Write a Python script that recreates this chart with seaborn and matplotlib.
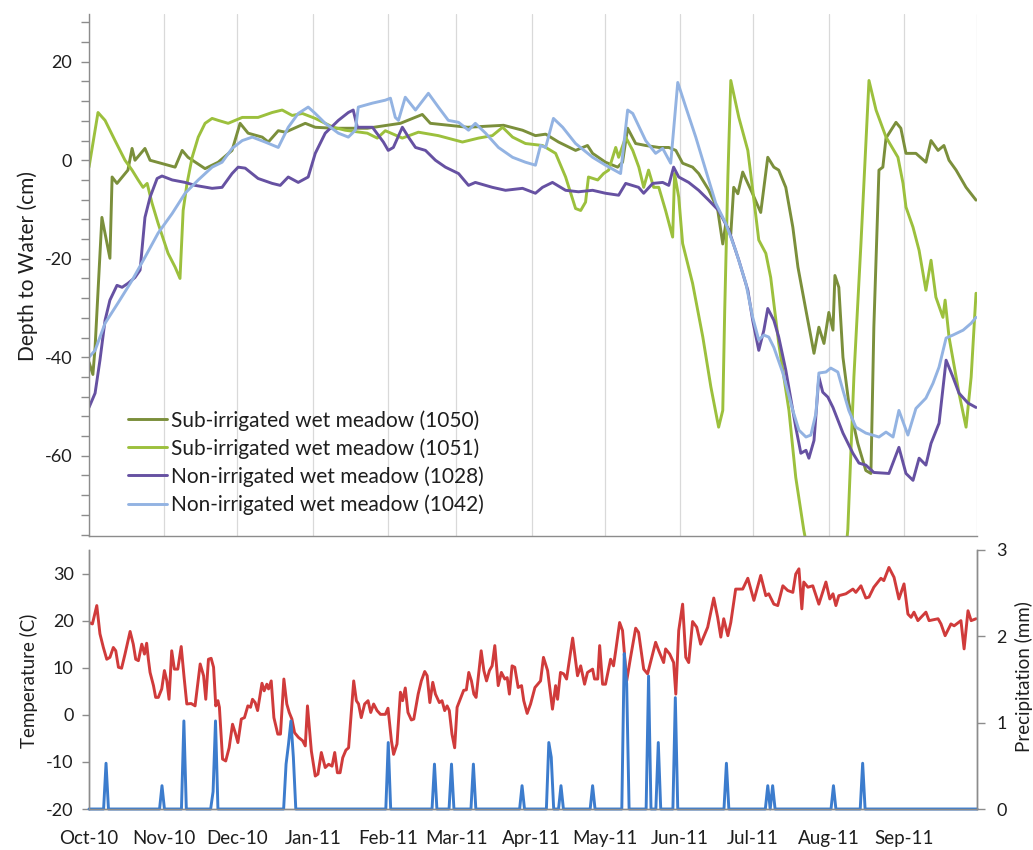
import numpy as np
import pandas as pd
import matplotlib
matplotlib.use("Agg")
import matplotlib.pyplot as plt
import matplotlib.dates as mdates
from matplotlib.ticker import MultipleLocator, FixedLocator
import seaborn as sns

# ---------------- data (days since 2010-10-01) ----------------
days_1050 = [0, 1.6, 2.5, 5.3, 8.6, 9.5, 11.5, 16.0, 17.7, 18.9, 23.0, 25.1, 35.4, 38.3, 40.7, 47.7, 53.1, 58.8, 62.1, 65.4,
             71.2, 73.7, 77.8, 80.7, 88.9, 93.0, 100.4, 114.4, 128.0, 137.0, 140.3, 155.6, 170.4, 178.2, 183.5, 187.7, 189.7,
             193.0, 200.0, 204.9, 207.0, 212.3, 217.3, 219.3, 221.4, 224.7, 228.8, 234.2, 238.3, 241.2, 244.0, 248.1, 250.6,
             254.7, 258.4, 260.5, 261.7, 263.8, 265.0, 266.7, 268.7, 270.8, 272.4, 276.1, 279.0, 281.5, 283.5, 286.4, 289.3,
             291.4, 294.7, 298.0, 300.0, 302.1, 304.1, 305.8, 306.6, 308.2, 309.9, 312.3, 316.0, 319.3, 321.4, 322.6, 324.7,
             326.3, 327.6, 331.7, 333.7, 335.8, 339.9, 344.0, 346.1, 349.0, 351.4, 353.5, 356.4, 360.5, 364.6]
depth_1050 = [-41, -43.5, -38, -11.6, -19.9, -3.4, -4.7, -2, 2.4, 0, 2.4, 0, -1.4, 2, 0.6, -1.7, -0.4, 2, 7.5, 5.5,
              4.7, 3.7, 6, 5.7, 7.5, 6.7, 6.5, 6.5, 7.5, 9.3, 7.5, 6.7, 7.1, 6.1, 5, 5.3, 4.7,
              3.7, 2, 3, 1.4, -0.4, -1.4, -0.4, 6.5, 3.4, 3, 2.6, 2.6, 2, -0.6, -1.4, -2.7,
              -6, -10, -17, -13, -15, -5.5, -6.8, -2.4, -4.7, -6.4, -10.6, 0.6, -1.4, -2, -5.5, -13.6,
              -21.7, -30.5, -39.2, -33.9, -37.2, -30.9, -34.5, -23.4, -25.8, -40, -49.3, -57.5, -63, -63.6, -33.9, -2,
              -1.4, 4.5, 7.7, 6.5, 1.4, 1.4, -0.4, 4, 2, 3, 0, -2, -5.5, -8.1]

days_1051 = [0, 3.7, 6.6, 10.7, 14.8, 17.7, 20.2, 22.2, 23.9, 25.9, 28.4, 32.5, 35.4, 37.4, 38.7, 40.3, 42.4, 44.9, 47.7, 50.6,
             53.1, 57.2, 63.0, 69.5, 75.3, 79.4, 83.5, 87.7, 93.0, 97.1, 100.4, 105.3, 114.4, 118.5, 121.8, 128.8, 135.4, 143.6,
             153.5, 160.1, 165.8, 170.0, 174.1, 179.4, 186.4, 191.8, 195.9, 200.0, 202.1, 204.1, 205.3, 209.1, 211.5, 213.6,
             216.5, 217.7, 220.6, 223.5, 226.0, 228.0, 230.0, 232.1, 234.2, 237.0, 239.9, 240.7, 242.4, 244.0, 248.1, 252.3,
             255.6, 258.8, 260.5, 261.3, 262.6, 263.8, 267.1, 270.8, 272.8, 275.3, 278.2, 280.2, 283.5, 287.7, 290.5, 293.8,
             298.8, 309.1, 311.9, 314.4, 317.3, 320.6, 323.5, 327.6, 332.5, 334.6, 335.8, 338.7, 341.2, 344.0, 346.1, 348.1,
             351.0, 351.9, 353.5, 357.6, 360.5, 362.6, 364.6]
depth_1051 = [-1.4, 9.7, 8.1, 4, 0, -2, -4, -5.5, -4.7, -8.7, -12.8, -18.9, -21.7, -24, -10.2, -4.7, 0.6, 4.7, 7.5, 8.5,
              8.1, 7.5, 8.7, 8.7, 9.7, 10.2, 9.1, 9.5, 8.5, 7.5, 6.7, 6.1, 5.5, 4.5, 6, 4.5, 5.7, 5,
              3.7, 4.5, 5, 6.7, 4.7, 3.4, 3, 1.4, -3.4, -9.8, -10.2, -8.5, -3.4, -4, -2.7, -2,
              2.6, 0.6, 4.7, 2, -1.4, -5.5, -2, -5.5, -5.5, -10.2, -15.6, -2.7, -7.5, -16.9, -25, -35.9,
              -46, -54.2, -50.8, -30.5, -3.4, 16.2, 8.7, 2, -6, -16.2, -18.9, -23.8, -37.2, -50.8, -64.4, -75.1,
              -88, -90, -75, -44, -16.9, 16.2, 10.2, 4.7, 0.6, -4.7, -9.5, -13.6, -18.3, -26.4, -20.3, -27.8,
              -31.9, -28.4, -35.9, -47.3, -54.2, -44, -27]

days_1028 = [0, 2.5, 4.5, 6.6, 8.6, 11.5, 13.6, 16.0, 18.9, 21.0, 23.0, 25.1, 28.0, 30.0, 34.2, 39.5, 43.6, 50.6, 54.7, 58.8,
             61.3, 64.2, 69.5, 75.3, 78.6, 81.9, 86.0, 90.1, 93.0, 97.1, 102.5, 106.6, 108.6, 110.3, 116.5, 121.0, 123.0,
             125.1, 128.8, 131.3, 134.2, 138.3, 142.4, 146.5, 151.9, 156.0, 158.8, 165.8, 171.2, 178.2, 183.5, 186.4, 190.5,
             195.9, 201.2, 207.0, 212.3, 217.7, 220.6, 225.9, 228.0, 231.7, 235.8, 238.3, 240.3, 242.4, 246.5, 250.6, 254.7,
             258.8, 263.0, 267.1, 270.8, 272.8, 275.3, 277.4, 279.0, 281.5, 283.5, 286.4, 290.5, 292.6, 294.7, 295.9, 298.0,
             300.0, 301.6, 303.7, 305.8, 309.9, 314.0, 316.5, 319.3, 322.6, 328.8, 332.9, 335.8, 338.7, 341.2, 344.0, 346.1,
             349.4, 352.3, 355.1, 357.6, 361.3, 364.6]
depth_1028 = [-50.2, -47.3, -40.6, -32.5, -28.4, -25.4, -25.8, -25, -23.8, -22.3, -11.6, -7.5, -3.7, -3.2, -4, -4.5, -5.1, -5.7, -5.5, -2.7,
              -1.4, -1.6, -3.7, -4.7, -5.1, -3.4, -4.5, -3.4, 1.4, 5.5, 8.1, 9.7, 10.2, 6.7, 6.7, 3.7, 2,
              2.6, 6.7, 4.7, 2.6, 2, 0, -1.4, -2.7, -5.1, -4.5, -5.5, -6.1, -5.7, -6.7, -5.5, -4.5,
              -6.1, -6.4, -6.1, -6.7, -7.1, -4.7, -5.5, -6.7, -4.7, -4.5, -5.1, -1.4, -3.4, -4.5, -6.1, -8.1,
              -10.2, -14.2, -20.3, -26.4, -32.5, -38.6, -34.5, -30.1, -32.5, -35.9, -42.6, -54.2, -59.5, -58.9, -60.5, -56.9,
              -44, -47.1, -48.1, -50.2, -55.4, -59.5, -61.5, -61.9, -63.4, -63.6, -58.3, -63.6, -65, -60.5, -61.9, -57.5,
              -53.4, -40.6, -44, -47.3, -49.3, -50.2]

days_1042 = [0, 2.5, 6.6, 11.9, 17.7, 23.0, 28.4, 34.2, 39.5, 44.9, 50.6, 54.7, 58.8, 63.0, 67.1, 72.4, 77.8, 81.9, 86.0, 90.1,
             93.0, 97.1, 102.5, 106.6, 109.5, 110.7, 116.5, 121.8, 123.9, 125.9, 127.2, 130.0, 134.2, 139.5, 143.6, 147.7,
             151.9, 156.0, 158.8, 163.0, 168.3, 174.1, 179.4, 183.5, 185.6, 187.7, 190.9, 194.7, 200.0, 207.0, 212.3, 218.5,
             221.4, 223.5, 228.8, 232.9, 235.8, 239.1, 242.0, 245.3, 249.4, 253.5, 257.6, 261.7, 265.8, 270.0, 272.8, 275.3,
             277.4, 279.4, 281.5, 285.2, 289.3, 291.8, 294.7, 296.7, 298.8, 300.0, 302.9, 304.9, 307.8, 309.9, 312.3, 315.2,
             319.3, 324.7, 327.6, 330.5, 332.9, 336.6, 339.9, 344.0, 346.9, 349.4, 352.3, 355.1, 359.3, 362.6, 364.6]
depth_1042 = [-40, -38.6, -33.1, -29, -24.4, -19.7, -14.8, -10.8, -6.7, -4, -1.4, -0.4, 2.4, 4, 4.7, 3.7, 2.6, 6.7, 9.5, 10.8,
              9.5, 7.5, 5.5, 4.7, 6.1, 10.8, 11.6, 12.2, 12.6, 8.7, 8.1, 12.8, 10.2, 13.6, 10.8, 8.1,
              7.7, 6.1, 7.5, 5.5, 2.6, 0.6, -0.4, -1, 3, 2.6, 8.5, 6.7, 3.4, 0.6, -1, -2.7,
              10.2, 9.5, 4, 1.4, 2.4, -0.6, 15.8, 10.8, 4.7, -2, -8.7, -12.8, -18.3, -25, -31.9, -36.5,
              -35.5, -35.9, -38, -43.2, -50.8, -54.8, -56.2, -55.8, -51.4, -43.2, -43, -42.2, -43, -46.7, -50.8, -54.2,
              -55.4, -56.2, -55.2, -56.2, -50.8, -55.8, -50.4, -48.3, -45.3, -42, -36.1, -35.5, -34.5, -33.1, -31.9]

temp_days = [0, 1.4, 3.2, 4.5, 5.9, 7.3, 8.6, 10.0, 11.0, 12.1, 13.4, 14.8, 16.9, 18.2, 19.2, 20.3, 21.7, 22.8, 23.7, 24.4,
             25.1, 26.5, 27.4, 28.5, 29.9, 31.0, 32.0, 32.9, 34.0, 35.1, 36.5, 37.9, 39.1, 40.2, 42.0, 43.6, 45.7, 47.1, 48.0, 49.1,
             50.2, 51.2, 52.1, 53.0, 53.6, 54.9, 56.2, 57.6, 59.0, 60.1, 61.2, 62.6, 63.9, 65.3, 66.4, 67.2, 68.3, 69.3, 71.1, 72.0,
             73.1, 73.8, 74.9, 76.0, 77.6, 78.7, 80.1, 81.3, 82.3, 83.4, 84.5, 86.1, 87.8, 88.9, 89.8, 91.4, 93.0, 94.1, 95.5, 97.1,
             98.5, 99.9, 101.0, 102.1, 103.2, 104.3, 105.6, 106.7, 108.8, 109.9, 110.8, 111.9, 113.3, 114.7, 115.8, 117.0, 118.4,
             119.8, 121.8, 122.9, 124.3, 125.2, 126.6, 128.0, 128.9, 130.0, 131.1, 132.5, 133.5, 135.3, 136.6, 138.0, 139.0,
             140.1, 141.3, 142.4, 144.0, 145.1, 146.2, 147.2, 148.1, 149.2, 150.3, 151.3, 152.7, 154.0, 155.1, 156.1, 157.2,
             158.2, 159.1, 161.2, 162.3, 163.4, 164.6, 165.7, 166.8, 168.2, 169.5, 170.9, 171.9, 172.8, 173.9, 175.0, 176.4,
             177.8, 178.7, 180.1, 181.5, 183.3, 185.6, 186.8, 188.5, 190.5, 191.8, 192.6, 193.8, 195.1, 196.3, 198.8, 200.8,
             202.1, 203.7, 204.9, 207.0, 207.8, 209.1, 209.9, 211.1, 212.3, 214.4, 215.6, 216.5, 218.1, 219.3, 221.0, 222.6,
             224.7, 225.9, 228.0, 229.6, 231.3, 232.9, 234.2, 236.2, 237.0, 238.7, 240.3, 241.2, 242.4, 244.0, 245.3, 246.5,
             248.1, 249.8, 251.4, 254.3, 256.8, 258.4, 259.7, 260.9, 262.6, 263.8, 265.8, 268.7, 270.8, 273.3, 276.1, 278.2,
             279.4, 281.5, 283.1, 285.2, 287.2, 289.3, 290.5, 291.8, 293.0, 293.8, 295.5, 297.5, 300.0, 302.9, 304.5, 305.8,
             307.0, 308.2, 311.1, 314.0, 315.2, 317.3, 319.3, 320.6, 322.6, 325.5, 326.7, 328.8, 330.9, 332.9, 335.0, 336.6,
             337.9, 339.1, 340.7, 344.0, 345.3, 349.0, 350.2, 351.9, 354.3, 355.6, 358.4, 359.7, 361.3, 362.6, 364.6]
temp_c = [19.6, 19.3, 23.2, 17.2, 14.3, 11.8, 12.2, 14.3, 13.6, 10.1, 9.9, 12.9, 17.7, 15, 11.8, 11.5, 15, 12.9, 15.2, 11.8,
          9, 6.2, 3.7, 3.7, 5.5, 9.4, 7.2, 3.3, 13.6, 9.7, 9.7, 14.5, 7.9, 2.3, 2.4, 1.9, 10.8, 8.3, 3.3, 11.8,
          12, 10.1, 1.9, 3, 1.6, -9.4, -9.8, -7, -2, -3.8, -5.9, -0.9, -0.6, 1.9, 1.6, 3.3, 2.6, 0.9, 6.7, 5.1,
          6.5, 5.5, 7.2, -0.6, -4.1, -4.1, 7.6, 2.3, 0.5, -0.9, -3.8, -4.8, -5.5, -6.6, 1.9, -7.7, -13, -12.6, -8, -11.2,
          -10.5, -10.9, -8, -12.3, -12.3, -9.1, -7.5, -7, 7.2, 3, 2.3, -0.6, 2.3, 3, 0.5, 2.3, 0.9,
          0.1, 0.1, 1.4, -5.5, -8.4, -6.2, 4.8, 3, 5.7, 0.5, -1.1, -0.9, 4.4, 7.2, 9.2, 8.3,
          2.6, 6.9, 4.4, 2.6, 3, 0.9, 1.9, 0.9, -4.1, -7, 1.6, 3.5, 5.2, 5.3, 9, 7.2,
          4.4, 3.7, 13.6, 9.4, 7.2, 9.4, 10.4, 14.7, 6.2, 9, 7.6, 7.9, 4.4, 10.4, 10.1, 5.8,
          6.2, 3, 0.3, 2.3, 5.8, 7.2, 12.2, 9.4, 1.2, 6.2, 3.3, 9, 8.7, 7.6, 16.3, 8.3,
          10.4, 6.5, 9, 9.7, 7.6, 7.6, 14.7, 6.5, 6.5, 11.8, 10.4, 13.6, 19.6, 17.9, 7.2, 12.2,
          18.4, 17.5, 9.7, 8.7, 12.2, 15.4, 13.6, 11.1, 14, 12.9, 11.1, 4.4, 17.9, 23.5, 12.2, 11.1,
          19.8, 18.6, 15, 18.6, 24.8, 20.7, 16.5, 20.4, 16.8, 19.6, 26.7, 26.7, 29, 24.3, 29.6, 25.3,
          25.7, 23.5, 23.2, 27.4, 26.4, 26, 29.9, 31, 22.5, 28.2, 27.1, 27.4, 23.5, 28.2, 24.6, 25.7,
          23.2, 25.3, 25.7, 26.7, 26, 27.4, 24.8, 25, 27.1, 29, 28.5, 31.3, 29.2, 24.6, 27.8, 21.4,
          20.7, 21.8, 20, 21.8, 20, 20.4, 19.3, 16.8, 19.3, 18.9, 20, 14, 22.1, 20, 20.4]

rain_days = [7, 30, 39, 51, 52, 81, 82, 83, 84, 123, 142, 149, 158, 178, 189, 190, 194, 207,
             220, 221, 230, 234, 241, 262, 279, 281, 306, 318]
rain_mm = [0.53, 0.27, 1.02, 0.2, 1.02, 0.52, 0.75, 1.02, 0.6, 0.77, 0.52, 0.52, 0.52, 0.27, 0.77, 0.6, 0.27, 0.27,
           1.8, 1.45, 1.54, 0.77, 1.29, 0.53, 0.27, 0.27, 0.27, 0.53]

series_labels = ["Sub-irrigated wet meadow (1050)", "Sub-irrigated wet meadow (1051)",
                 "Non-irrigated wet meadow (1028)", "Non-irrigated wet meadow (1042)"]
month_labels = ["Oct-10", "Nov-10", "Dec-10", "Jan-11", "Feb-11", "Mar-11",
                "Apr-11", "May-11", "Jun-11", "Jul-11", "Aug-11", "Sep-11"]

# ---------------- styling ----------------
sns.set_theme(style="white")
plt.rcParams["font.family"] = ["Lato", "DejaVu Sans"]
plt.rcParams["axes.unicode_minus"] = False

start = pd.Timestamp("2010-10-01")


def to_dates(days):
    return start + pd.to_timedelta(np.asarray(days, dtype=float), unit="D")


colors = ["#7B8F3B", "#9CC03D", "#6651A2", "#93B3E2"]
temp_color = "#D03B3B"
rain_color = "#3C7CCD"
axis_gray = "#8C8C8C"
grid_gray = "#D9D9D9"
text_col = "#1E1E1E"

W, H = 1033, 850
fig = plt.figure(figsize=(W / 100, H / 100), dpi=100)
L, R = 89, 977
ax1 = fig.add_axes([L / W, 1 - 536 / H, (R - L) / W, (536 - 14) / H])
ax2 = fig.add_axes([L / W, 1 - 809 / H, (R - L) / W, (809 - 550) / H])
ax3 = ax2.twinx()

# ---------------- top panel ----------------
for d, v, c, lab in zip([days_1050, days_1051, days_1028, days_1042],
                        [depth_1050, depth_1051, depth_1028, depth_1042],
                        colors, series_labels):
    sns.lineplot(x=to_dates(d), y=v, ax=ax1, color=c, lw=2.1, estimator=None,
                 sort=False, label=lab, legend=False)

month_starts = pd.date_range("2010-10-01", "2011-10-01", freq="MS")
xmin, xmax = start, pd.Timestamp("2011-10-01")

ax1.set_xlim(xmin, xmax)
ax1.set_ylim(-76.3, 29.7)
ax1.xaxis.set_major_locator(FixedLocator(mdates.date2num(month_starts)))
ax1.tick_params(axis="x", length=0, labelbottom=False)
ax1.grid(axis="x", color=grid_gray, lw=0.9)
ax1.grid(axis="y", visible=False)
ax1.set_yticks([-60, -40, -20, 0, 20])
ax1.yaxis.set_minor_locator(MultipleLocator(4))
ax1.tick_params(axis="y", which="both", direction="out", length=6, width=1,
                color=axis_gray, labelsize=13, labelcolor=text_col, pad=6, left=True)
ax1.set_xlabel("")
ax1.set_ylabel("")
for s in ["top", "right"]:
    ax1.spines[s].set_visible(False)
for s in ["left", "bottom"]:
    ax1.spines[s].set_color(axis_gray)
    ax1.spines[s].set_linewidth(1)

h, l = ax1.get_legend_handles_labels()
ax1.legend(h, l, loc="upper left", bbox_to_anchor=((128 - L) / (R - L), (536 - 410) / 522),
           frameon=False, fontsize=15, handlelength=1.85, handletextpad=0.2,
           labelspacing=0.36, borderpad=0, borderaxespad=0, labelcolor=text_col)

# ---------------- bottom panel ----------------
sns.lineplot(x=to_dates(temp_days), y=temp_c, ax=ax2, color=temp_color, lw=2.1,
             estimator=None, sort=False, legend=False)

rain_daily = np.zeros(366)
rain_daily[np.array(rain_days)] = rain_mm
all_days = np.arange(366)
sns.lineplot(x=to_dates(all_days), y=rain_daily, ax=ax3, color=rain_color, lw=2.1,
             estimator=None, sort=False, legend=False, clip_on=False)

for ax in (ax2, ax3):
    ax.set_xlim(xmin, xmax)
    ax.set_xlabel("")
    ax.set_ylabel("")

ax2.set_ylim(-20, 35)
ax2.set_yticks([-20, -10, 0, 10, 20, 30])
ax3.set_ylim(0, 3)
ax3.set_yticks([0, 1, 2, 3])
ax3.grid(False)

ax2.xaxis.set_major_locator(FixedLocator(mdates.date2num(month_starts[:-1])))
ax2.set_xticklabels(month_labels)
ax2.xaxis.set_minor_locator(FixedLocator(mdates.date2num(month_starts)))
ax2.grid(axis="x", which="minor", color=grid_gray, lw=0.9)
ax2.grid(axis="x", which="major", visible=False)
ax2.grid(axis="y", visible=False)
ax2.tick_params(axis="x", which="both", length=0, labelsize=13.5, labelcolor=text_col, pad=15)
ax2.tick_params(axis="y", direction="out", length=5, width=1, color=axis_gray,
                labelsize=13, labelcolor=text_col, pad=6, left=True)
ax3.tick_params(axis="y", direction="out", length=6, width=1, color=axis_gray,
                labelsize=13, labelcolor=text_col, pad=8, right=True)

for ax in (ax2, ax3):
    ax.spines["top"].set_visible(False)
    for s in ["left", "right", "bottom"]:
        ax.spines[s].set_color(axis_gray)
        ax.spines[s].set_linewidth(1)

# axis titles
fig.text(28 / W, 1 - 266 / H, "Depth to Water (cm)", rotation=90, ha="center", va="center",
         fontsize=15, color=text_col)
fig.text(29 / W, 1 - 681 / H, "Temperature (C)", rotation=90, ha="center", va="center",
         fontsize=13.5, color=text_col)
fig.text(1024 / W, 1 - 677 / H, "Precipitation (mm)", rotation=90, ha="center", va="center",
         fontsize=13.5, color=text_col)

fig.savefig("out.png", dpi=100, facecolor="white")
